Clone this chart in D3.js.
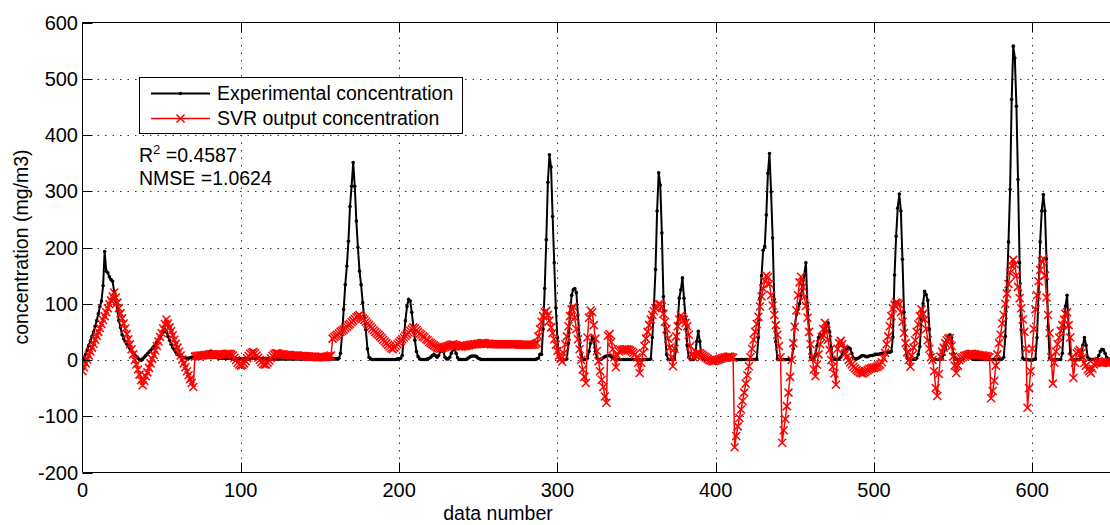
<!DOCTYPE html>
<html>
<head>
<meta charset="utf-8">
<script src="https://cdn.jsdelivr.net/npm/d3@7"></script>
<style>
  html, body { margin: 0; padding: 0; background: #fff; }
  svg { display: block; font-family: "Liberation Sans", Arial, sans-serif; }
</style>
</head>
<body>
<svg id="vis" width="1110" height="525"></svg>
<script>
// tick labels
const xTicks = [0, 100, 200, 300, 400, 500, 600];
const yTicks = [-200, -100, 0, 100, 200, 300, 400, 500, 600];

// experimental concentration, one value per data number
const experimental = [
  -3, 2, 10, 18, 26, 34, 42, 50, 60, 70,
  82, 95, 105, 132, 193, 158, 155, 148, 143, 140,
  122, 105, 88, 70, 58, 45, 38, 33, 28, 24,
  20, 16, 12, 9, 6, 3, 1, -1, 2, 5,
  8, 11, 14, 17, 20, 24, 28, 32, 36, 40,
  45, 50, 55, 50, 42, 35, 28, 22, 18, 14,
  10, 8, 6, 5, 4, 4, 3, 3, 4, 5,
  5, 5, 4, 4, 5, 6, 6, 7, 8, 10,
  14, 16, 12, 8, 5, 4, 3, 3, 3, 3,
  3, 3, 3, 3, 3, 3, 2, 2, 2, 2,
  2, 2, 2, 2, 2, 2, 2, 3, 3, 3,
  3, 3, 3, 2, 2, 2, 2, 2, 2, 2,
  2, 2, 2, 2, 2, 2, 2, 2, 2, 2,
  2, 2, 2, 2, 2, 2, 2, 2, 2, 2,
  2, 2, 2, 2, 2, 2, 2, 2, 2, 2,
  2, 2, 2, 2, 2, 2, 2, 2, 2, 2,
  2, 2, 3, 12, 45, 90, 134, 167, 211, 273,
  309, 351, 309, 247, 200, 158, 134, 102, 75, 54,
  20, 5, 2, 1, 1, 1, 1, 1, 1, 1,
  1, 1, 1, 1, 1, 1, 1, 1, 1, 2,
  2, 3, 8, 40, 70, 95, 108, 105, 85, 60,
  35, 15, 6, 2, 1, 1, 1, 1, 2, 3,
  5, 8, 10, 8, 5, 8, 15, 20, 15, 5,
  2, 2, 5, 12, 18, 20, 12, 4, 1, 1,
  1, 1, 1, 2, 4, 6, 7, 7, 7, 6,
  3, 2, 1, 1, 1, 1, 1, 1, 1, 1,
  1, 1, 1, 1, 1, 1, 1, 1, 1, 1,
  1, 1, 1, 1, 1, 1, 1, 1, 1, 1,
  1, 1, 1, 1, 1, 1, 1, 2, 3, 10,
  10, 55, 127, 214, 316, 365, 343, 255, 173, 93,
  40, 5, 1, 1, 1, 1, 2, 30, 84, 115,
  125, 127, 120, 80, 35, 10, 2, 1, 1, 3,
  15, 30, 42, 35, 15, 3, 1, 1, 2, 4,
  6, 7, 8, 8, 6, 4, 2, 1, 1, 1,
  1, 1, 1, 1, 1, 1, 1, 1, 1, 1,
  1, 1, 1, 1, 1, 1, 1, 1, 1, 2,
  40, 96, 161, 265, 333, 311, 226, 113, 48, 10,
  1, 1, 1, 1, 2, 18, 65, 110, 125, 146,
  110, 72, 26, 5, 1, 1, 1, 5, 33, 51,
  33, 6, 2, 1, 1, 1, 1, 1, 1, 1,
  1, 1, 1, 1, 1, 1, 1, 1, 1, 1,
  1, 1, 1, 1, 1, 1, 1, 1, 1, 1,
  1, 1, 1, 1, 1, 1, 2, 40, 110, 150,
  195, 202, 258, 332, 367, 299, 217, 108, 32, 2,
  1, 1, 1, 1, 1, 1, 1, 1, 1, 20,
  60, 81, 90, 100, 115, 130, 152, 173, 96, 54,
  5, 1, 2, 10, 25, 40, 45, 40, 45, 55,
  60, 66, 50, 20, 3, 2, 1, 1, 2, 5,
  10, 15, 18, 20, 22, 20, 12, 4, 2, 2,
  3, 5, 7, 8, 7, 6, 6, 7, 8, 8,
  9, 10, 10, 10, 11, 12, 12, 13, 13, 14,
  14, 15, 41, 151, 220, 270, 295, 265, 179, 85,
  19, 3, 1, 1, 1, 1, 1, 3, 10, 24,
  72, 100, 122, 116, 106, 55, 10, 2, 1, 1,
  1, 1, 1, 2, 10, 20, 34, 42, 45, 40,
  12, 2, 1, 1, 1, 1, 1, 5, 10, 12,
  10, 5, 2, 1, 1, 1, 1, 1, 1, 1,
  1, 1, 1, 1, 1, 1, 1, 1, 1, 2,
  1, 2, 5, 42, 125, 210, 303, 463, 558, 537,
  451, 321, 173, 54, 3, 1, 1, 1, 0, 0,
  0, 1, 2, 40, 118, 210, 265, 294, 265, 180,
  60, 3, 1, 1, 1, 1, 1, 1, 1, 12,
  60, 96, 115, 60, 12, 1, 1, 1, 1, 1,
  1, 5, 26, 40, 26, 5, 2, 1, 1, 1,
  1, 2, 8, 15, 19, 18, 12, 5, 2, 1
];

// SVR output concentration, one value per data number
const svrOutput = [
  -20, -13, -6, 1, 8, 15, 22, 29, 36, 43,
  50, 57, 64, 71, 78, 85, 92, 99, 106, 113,
  120, 111, 102, 92, 83, 74, 65, 56, 46, 37,
  28, 19, 10, 0, -8, -17, -26, -36, -45, -37,
  -29, -22, -14, -6, 2, 9, 17, 25, 33, 41,
  48, 56, 64, 72, 65, 58, 51, 44, 36, 29,
  22, 15, 8, 1, -6, -13, -20, -27, -34, -41,
  -48, 6, 7, 7, 8, 8, 8, 9, 9, 9,
  10, 10, 10, 9, 9, 9, 10, 10, 10, 10,
  10, 11, 11, 11, 10, 8, 4, 0, -5, -8,
  -10, -9, -6, -2, 3, 7, 11, 13, 14, 12,
  8, 4, 0, -4, -7, -8, -8, -5, -1, 3,
  7, 10, 12, 12, 11, 10, 10, 10, 9, 9,
  9, 9, 8, 8, 8, 8, 8, 7, 7, 7,
  7, 7, 6, 6, 6, 6, 6, 6, 5, 5,
  5, 5, 5, 5, 6, 6, 7, 8, 38, 41,
  43, 45, 47, 50, 52, 54, 57, 59, 62, 64,
  67, 70, 73, 76, 78, 80, 77, 74, 71, 68,
  65, 62, 59, 56, 53, 50, 47, 45, 42, 39,
  36, 33, 30, 27, 24, 21, 19, 22, 25, 28,
  31, 34, 37, 40, 43, 46, 49, 52, 55, 58,
  56, 53, 50, 47, 45, 42, 40, 37, 35, 32,
  30, 28, 26, 24, 22, 21, 20, 21, 22, 23,
  24, 25, 26, 27, 28, 27, 26, 25, 24, 24,
  24, 25, 25, 26, 26, 27, 27, 28, 28, 28,
  29, 29, 30, 30, 30, 29, 29, 29, 28, 28,
  28, 28, 28, 28, 28, 28, 28, 28, 28, 28,
  28, 28, 28, 28, 28, 28, 27, 27, 27, 27,
  27, 27, 27, 27, 27, 27, 28, 30, 42, 55,
  68, 78, 85, 87, 80, 70, 58, 48, 37, 27,
  16, 8, 2, -3, 12, 28, 42, 60, 78, 90,
  95, 75, 55, 37, 19, 0, -17, -30, -41, 40,
  75, 88, 85, 62, 38, 16, -2, -20, -35, -48,
  -65, -76, 43, 46, 32, 19, 5, -13, 8, 15,
  17, 18, 19, 19, 19, 18, 17, 15, 13, 10,
  5, -5, -23, -5, 12, 25, 38, 50, 62, 72,
  80, 87, 92, 96, 99, 99, 95, 82, 68, 55,
  38, 22, 5, -11, 20, 42, 60, 72, 79, 76,
  72, 66, 60, 45, 25, 10, 5, 8, 12, 13,
  12, 10, 8, 6, 4, 2, 0, -1, -2, -2,
  -1, 0, 1, 2, 3, 4, 5, 5, 6, 6,
  5, 4, -155, -135, -118, -103, -88, -73, -58, -42,
  -27, -11, 5, 20, 36, 50, 64, 77, 95, 113,
  127, 140, 150, 147, 135, 115, 97, 80, 62, 45,
  25, 5, -147, -125, -105, -82, -58, -30, 0, 30,
  59, 88, 115, 138, 148, 130, 112, 96, 75, 50,
  28, 5, -17, -29, -8, 10, 28, 41, 55, 66,
  52, 36, 18, 0, -12, -24, -44, 20, 30, 34,
  28, 20, 12, 6, 0, -4, -8, -12, -15, -18,
  -20, -22, -23, -24, -22, -20, -18, -16, -15, -14,
  -14, -13, -12, -10, -8, -4, 3, 13, 28, 42,
  60, 78, 92, 98, 102, 101, 99, 85, 68, 48,
  30, 14, 0, -12, 8, 22, 35, 50, 63, 78,
  90, 82, 72, 55, 35, 20, 5, 0, -20, -50,
  -64, -25, 6, 15, 22, 30, 35, 38, 39, 25,
  6, -10, -23, -10, 0, 3, 5, 7, 8, 9,
  10, 11, 11, 10, 10, 9, 9, 8, 8, 8,
  7, 7, 6, 5, -68, -55, -37, -10, 10, 30,
  45, 65, 80, 100, 118, 135, 155, 168, 178, 170,
  150, 130, 110, 92, 72, 50, 20, -85, -50, -20,
  20, 55, 90, 115, 140, 160, 175, 180, 150, 111,
  80, 48, 5, -42, -5, 15, 28, 40, 52, 62,
  72, 82, 85, 62, 40, 5, -32, -5, 12, 15,
  18, 12, 5, -5, -10, -17, -20, -23, -15, -8,
  -5, -3, -2, -4, -5, -5, -4, -5, -5, -5
];

const seriesNames = ["Experimental concentration", "SVR output concentration"];
const statLines = ["0.4587", "1.0624"];

const svg = d3.select("#vis");
const plotLeft = 82.5, plotRight = 1111.4, plotTop = 22.5, plotBottom = 472.5;
const fontSize = 19.5;

const x = d3.scaleLinear().domain([0, 650]).range([plotLeft, plotRight]);
const y = d3.scaleLinear().domain([-200, 600]).range([plotBottom, plotTop]);

// dotted grid
const grid = svg.append("g")
  .attr("stroke", "#333")
  .attr("stroke-width", 1)
  .attr("stroke-dasharray", "1.5,6");
grid.selectAll(".gx").data(xTicks.filter(d => d > 0)).join("line")
  .attr("x1", d => Math.round(x(d)) + 0.5).attr("x2", d => Math.round(x(d)) + 0.5)
  .attr("y1", plotTop).attr("y2", plotBottom);
grid.selectAll(".gy").data(yTicks.filter(d => d > -200 && d < 600)).join("line")
  .attr("x1", plotLeft).attr("x2", 1110)
  .attr("y1", d => Math.round(y(d)) + 0.5).attr("y2", d => Math.round(y(d)) + 0.5);

svg.append("clipPath").attr("id", "plotclip")
  .append("rect").attr("x", plotLeft).attr("y", plotTop)
  .attr("width", plotRight - plotLeft).attr("height", plotBottom - plotTop);

const plot = svg.append("g").attr("clip-path", "url(#plotclip)");

const line = d3.line().x((d, i) => x(i)).y(d => y(d));

// experimental: black line with point markers
plot.append("path")
  .datum(experimental)
  .attr("fill", "none")
  .attr("stroke", "#000")
  .attr("stroke-width", 2)
  .attr("stroke-linejoin", "round")
  .attr("d", line);
plot.append("g").selectAll("circle").data(experimental).join("circle")
  .attr("cx", (d, i) => x(i))
  .attr("cy", d => y(d))
  .attr("r", 1.8)
  .attr("fill", "#000");

// svr output: red line with x markers
plot.append("path")
  .datum(svrOutput)
  .attr("fill", "none")
  .attr("stroke", "#ff0000")
  .attr("stroke-width", 1.5)
  .attr("d", line);
const cross = "M-4,-4L4,4M-4,4L4,-4";
plot.append("g").selectAll("path").data(svrOutput).join("path")
  .attr("transform", (d, i) => `translate(${x(i)},${y(d)})`)
  .attr("d", cross)
  .attr("fill", "none")
  .attr("stroke", "#ff0000")
  .attr("stroke-width", 1.5);

// axes box (left, bottom, top; right side runs off the picture)
const frame = svg.append("g").attr("stroke", "#000").attr("stroke-width", 1).attr("fill", "none");
frame.append("line").attr("x1", plotLeft).attr("x2", plotLeft).attr("y1", plotTop).attr("y2", plotBottom);
frame.append("line").attr("x1", plotLeft).attr("x2", 1110).attr("y1", plotBottom).attr("y2", plotBottom);
frame.append("line").attr("x1", plotLeft).attr("x2", 1110).attr("y1", plotTop).attr("y2", plotTop);

// inward ticks
const tickLen = 10;
frame.selectAll(".tb").data(xTicks.filter(d => d > 0)).join("line")
  .attr("x1", d => Math.round(x(d)) + 0.5).attr("x2", d => Math.round(x(d)) + 0.5)
  .attr("y1", plotBottom).attr("y2", plotBottom - tickLen);
frame.selectAll(".tt").data(xTicks.filter(d => d > 0)).join("line")
  .attr("x1", d => Math.round(x(d)) + 0.5).attr("x2", d => Math.round(x(d)) + 0.5)
  .attr("y1", plotTop).attr("y2", plotTop + tickLen);
frame.selectAll(".tl").data(yTicks).join("line")
  .attr("x1", plotLeft).attr("x2", plotLeft + tickLen)
  .attr("y1", d => Math.round(y(d)) + 0.5).attr("y2", d => Math.round(y(d)) + 0.5);

// tick labels
svg.append("g").selectAll("text").data(xTicks).join("text")
  .attr("x", d => x(d))
  .attr("y", 497)
  .attr("text-anchor", "middle")
  .attr("font-size", 20)
  .text(d => d);
svg.append("g").selectAll("text").data(yTicks).join("text")
  .attr("x", 78)
  .attr("y", d => y(d) + 7)
  .attr("text-anchor", "end")
  .attr("font-size", 20)
  .text(d => d);

// axis titles
svg.append("text")
  .attr("x", 498).attr("y", 520)
  .attr("text-anchor", "middle")
  .attr("font-size", fontSize)
  .text("data number");
svg.append("text")
  .attr("transform", "translate(28,247) rotate(-90)")
  .attr("text-anchor", "middle")
  .attr("font-size", fontSize)
  .text("concentration (mg/m3)");

// legend
const legend = svg.append("g");
legend.append("rect")
  .attr("x", 139.5).attr("y", 77.5).attr("width", 323).attr("height", 56)
  .attr("fill", "#fff").attr("stroke", "#000").attr("stroke-width", 1);
legend.append("line").attr("x1", 151).attr("x2", 210).attr("y1", 93.5).attr("y2", 93.5)
  .attr("stroke", "#000").attr("stroke-width", 2);
legend.append("circle").attr("cx", 180.5).attr("cy", 93.5).attr("r", 1.8).attr("fill", "#000");
legend.append("line").attr("x1", 151).attr("x2", 210).attr("y1", 118.5).attr("y2", 118.5)
  .attr("stroke", "#ff0000").attr("stroke-width", 1.5);
legend.append("path").attr("transform", "translate(180.5,118.5)").attr("d", cross)
  .attr("fill", "none").attr("stroke", "#ff0000").attr("stroke-width", 1.5);
legend.selectAll("text").data(seriesNames).join("text")
  .attr("x", 217)
  .attr("y", (d, i) => 100 + i * 25)
  .attr("font-size", fontSize)
  .text(d => d);

// fit statistics
const r2 = svg.append("text").attr("x", 139).attr("y", 162).attr("font-size", fontSize);
r2.append("tspan").text("R");
r2.append("tspan").attr("dy", -8).attr("font-size", 13).text("2");
r2.append("tspan").attr("dy", 8).text(" =" + statLines[0]);
svg.append("text").attr("x", 139).attr("y", 185).attr("font-size", fontSize)
  .text("NMSE =" + statLines[1]);
</script>
</body>
</html>
